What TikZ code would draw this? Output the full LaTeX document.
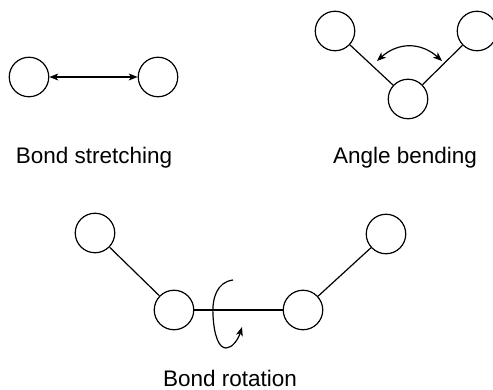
\documentclass[tikz,border=0pt]{standalone}
\usepackage{fontspec}
\setmainfont{Liberation Sans}
\usetikzlibrary{arrows.meta}
\begin{document}
\begin{tikzpicture}[x=1pt,y=-1pt,
  atom/.style={draw,circle,minimum size=39.5pt,inner sep=0pt,line width=1.2pt},
  bond/.style={line width=1.2pt},
  tip/.style={-{Stealth[length=9pt,width=7pt,inset=2.5pt]}},
  lbl/.style={font=\fontsize{22.5}{26}\selectfont,inner sep=0pt}]
\useasboundingbox (0,0) rectangle (493,390);
% Bond stretching
\node[atom] (s1) at (29,77) {};
\node[atom] (s2) at (158,77) {};
\draw[bond,{Stealth[length=9pt,width=7pt,inset=2.5pt]}-{Stealth[length=9pt,width=7pt,inset=2.5pt]}] (s1) -- (s2);
\node[lbl] (t1) at (94,158) {Bond stretching};
% Angle bending
\node[atom] (a1) at (335,31) {};
\node[atom] (a2) at (408,99) {};
\node[atom] (a3) at (477,31) {};
\draw[bond] (a1) -- (a2);
\draw[bond] (a2) -- (a3);
\coordinate (b1) at (377,61);
\coordinate (b2) at (442,61);
\draw[bond,{Stealth[length=9pt,width=7pt,inset=2.5pt]}-{Stealth[length=9pt,width=7pt,inset=2.5pt]}] (b1) .. controls (398,42) and (421,42) .. (b2);
\node[lbl] (t2) at (405,158) {Angle bending};
% Bond rotation
\node[atom] (r1) at (95,233) {};
\node[atom] (r2) at (174,310) {};
\node[atom] (r3) at (303,310) {};
\node[atom] (r4) at (386,234) {};
\draw[bond] (r1) -- (r2);
\draw[bond] (r2) -- (r3);
\draw[bond] (r3) -- (r4);
\coordinate (c1) at (233,280);
\coordinate (c2) at (242,327);
\draw[bond,tip] (c1) .. controls (217,282) and (212,298) .. (213,315) .. controls (214,336) and (219,348) .. (226,348) .. controls (232,348) and (238,340) .. (c2);
\node[lbl] (t3) at (230,378) {Bond rotation};
\end{tikzpicture}
\end{document}
